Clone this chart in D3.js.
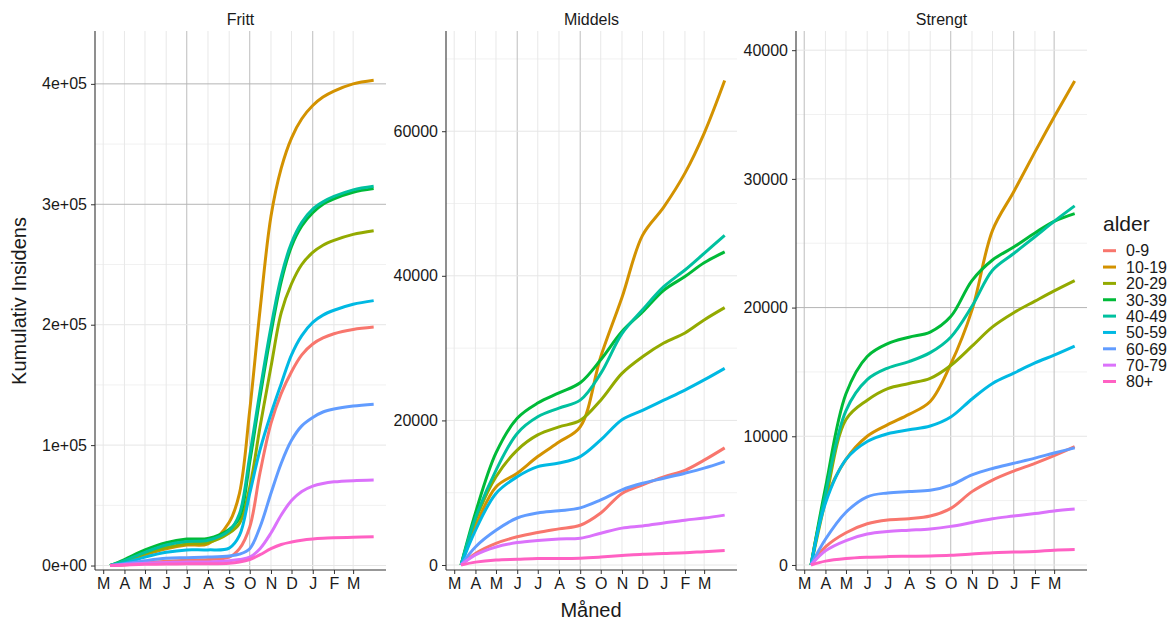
<!DOCTYPE html>
<html>
<head>
<meta charset="utf-8">
<script src="https://cdn.jsdelivr.net/npm/d3@7"></script>
<style>
  body { margin: 0; background: #fff; }
  text { font-family: "Liberation Sans", Arial, sans-serif; fill: #1a1a1a; }
</style>
</head>
<body>
<svg id="chart" width="1174" height="623"></svg>
<script>
(function () {
    'use strict'

    var ageGroups = ['0-9', '10-19', '20-29', '30-39', '40-49', '50-59', '60-69', '70-79', '80+']
    var ageColors = ['#F8766D', '#D39200', '#93AA00', '#00BA38', '#00C19F', '#00B9E3', '#619CFF', '#DB72FB', '#FF61C3']

    // Fritt rises fast in autumn, so it is read at half-month steps there
    var frittDates = ['2020-03-11', '2020-04-01', '2020-05-01', '2020-06-01', '2020-07-01', '2020-08-01', '2020-09-01',
        '2020-09-16', '2020-10-01', '2020-10-16', '2020-11-01', '2020-11-16', '2020-12-01', '2020-12-16',
        '2021-01-01', '2021-01-16', '2021-02-01', '2021-03-01', '2021-03-31']
    var dates = ['2020-03-11', '2020-04-01', '2020-05-01', '2020-06-01', '2020-07-01', '2020-08-01', '2020-09-01',
        '2020-10-01', '2020-11-01', '2020-12-01', '2021-01-01', '2021-02-01', '2021-03-01', '2021-03-31']

    var monthTicks = ['2020-03-01', '2020-04-01', '2020-05-01', '2020-06-01', '2020-07-01', '2020-08-01', '2020-09-01',
        '2020-10-01', '2020-11-01', '2020-12-01', '2021-01-01', '2021-02-01', '2021-03-01']
    var monthLabels = ['M', 'A', 'M', 'J', 'J', 'A', 'S', 'O', 'N', 'D', 'J', 'F', 'M']
    var xDomain = ['2020-02-18', '2021-04-18']

    var panelNames = ['Fritt', 'Middels', 'Strengt']

    // cumulative incidence, one row per age group (same order as ageGroups)
    var frittValues = [
        [0, 500, 2000, 3500, 4500, 5000, 7000, 14000, 32000, 77000, 118000, 143000, 161000, 175000, 184000, 189000, 192500, 196000, 198000],
        [0, 3000, 9000, 14000, 17000, 18000, 36000, 60000, 129000, 212000, 290000, 330000, 355000, 371000, 382000, 389000, 394000, 400000, 403000],
        [0, 3500, 10000, 15000, 18000, 19000, 27000, 35000, 65000, 115000, 165000, 210000, 234000, 250000, 260000, 266000, 270000, 275000, 278000],
        [0, 5000, 13000, 19000, 22000, 22500, 30000, 40000, 86000, 140000, 193000, 236000, 265000, 282000, 293000, 300000, 304500, 310000, 313000],
        [0, 4000, 11000, 17000, 20000, 21000, 29000, 43000, 91000, 145000, 198000, 240000, 268000, 285000, 296000, 302000, 306500, 312000, 315000],
        [0, 2000, 7000, 11000, 13000, 13000, 14500, 25000, 60000, 96000, 126000, 151000, 175000, 191000, 202000, 208000, 212000, 217000, 220000],
        [0, 1500, 4000, 6000, 6500, 7000, 8000, 9500, 14000, 32000, 60000, 85000, 104000, 116000, 123000, 127500, 130000, 132500, 134000],
        [0, 800, 2000, 2500, 3000, 3000, 4000, 5000, 7000, 14000, 27000, 42000, 54000, 61500, 66000, 68200, 69500, 70500, 71000],
        [0, 500, 1000, 1200, 1400, 1500, 2000, 3000, 5000, 9000, 14000, 17500, 19500, 21000, 22000, 22600, 23000, 23500, 24000]
    ]
    var middelsValues = [
        [0, 1600, 3000, 3900, 4500, 5000, 5500, 7200, 9900, 11100, 12200, 13100, 14500, 16200],
        [0, 5300, 10800, 12700, 15000, 17000, 19100, 28800, 37000, 45600, 49500, 54200, 59700, 67000],
        [0, 6200, 12200, 15900, 18000, 19100, 20000, 22800, 26500, 28800, 30700, 32100, 33900, 35600],
        [0, 7200, 15500, 20300, 22400, 23800, 25200, 28400, 32300, 35000, 38000, 39900, 41800, 43300],
        [0, 6500, 13100, 18200, 20500, 21700, 22800, 26500, 32000, 35300, 38500, 40800, 43100, 45600],
        [0, 4800, 9900, 12200, 13600, 14100, 15000, 17300, 20100, 21400, 22800, 24200, 25600, 27200],
        [0, 2500, 4800, 6500, 7200, 7500, 7900, 9000, 10400, 11300, 12000, 12700, 13400, 14300],
        [0, 1400, 2500, 3100, 3400, 3600, 3700, 4400, 5100, 5400, 5800, 6200, 6500, 6900],
        [0, 400, 700, 800, 900, 900, 950, 1100, 1300, 1500, 1600, 1700, 1850, 2000]
    ]
    var strengtValues = [
        [0, 1400, 2500, 3200, 3500, 3600, 3800, 4400, 5700, 6600, 7300, 7900, 8500, 9200],
        [0, 5000, 8200, 10000, 10900, 11700, 12700, 15600, 19800, 26000, 29000, 32100, 34800, 37600],
        [0, 5000, 11300, 12800, 13700, 14100, 14500, 15500, 17000, 18500, 19600, 20500, 21300, 22100],
        [0, 6000, 13300, 16200, 17200, 17700, 18100, 19300, 22100, 23700, 24700, 25800, 26700, 27300],
        [0, 5500, 12000, 14400, 15300, 15800, 16500, 17700, 20100, 22900, 24200, 25500, 26700, 27900],
        [0, 4800, 8200, 9600, 10200, 10500, 10800, 11500, 12900, 14100, 14900, 15700, 16300, 17000],
        [0, 2000, 4100, 5300, 5600, 5700, 5800, 6200, 7000, 7500, 7900, 8300, 8700, 9100],
        [0, 1100, 1900, 2400, 2600, 2700, 2800, 3000, 3300, 3600, 3800, 4000, 4200, 4350],
        [0, 300, 500, 600, 650, 680, 700, 750, 850, 950, 1000, 1050, 1150, 1200]
    ]

    var frittTicks = [0, 100000, 200000, 300000, 400000]
    var frittTickLabels = ['0e+00', '1e+05', '2e+05', '3e+05', '4e+05']
    var middelsTicks = [0, 20000, 40000, 60000]
    var middelsTickLabels = ['0', '20000', '40000', '60000']
    var strengtTicks = [0, 10000, 20000, 30000, 40000]
    var strengtTickLabels = ['0', '10000', '20000', '30000', '40000']

    var parse = d3.timeParse('%Y-%m-%d')
    var top = 31, bottom = 570

    var panels = [
        { name: panelNames[0], dates: frittDates, values: frittValues, ticks: frittTicks, labels: frittTickLabels,
          domain: [-3700, 443900], left: 95, right: 386, darkMonths: [4, 7, 10], darkY: [300000, 400000] },
        { name: panelNames[1], dates: dates, values: middelsValues, ticks: middelsTicks, labels: middelsTickLabels,
          domain: [-690, 73860], left: 446, right: 737, darkMonths: [3, 6], darkY: [] },
        { name: panelNames[2], dates: dates, values: strengtValues, ticks: strengtTicks, labels: strengtTickLabels,
          domain: [-390, 41490], left: 796, right: 1087, darkMonths: [0, 7, 10, 12], darkY: [20000] }
    ]

    var svg = d3.select('#chart')

    panels.forEach(function (p) {
        var x = d3.scaleTime().domain(xDomain.map(parse)).range([p.left, p.right])
        var y = d3.scaleLinear().domain(p.domain).range([bottom, top])
        var g = svg.append('g')

        //minor horizontal grid
        var step = p.ticks[1] - p.ticks[0]
        var minor = p.ticks.map(function (t) { return t + step / 2 })
            .filter(function (v) { return v < p.domain[1] })
        g.selectAll('.minor').data(minor).enter().append('line')
            .attr('x1', p.left).attr('x2', p.right)
            .attr('y1', y).attr('y2', y)
            .style('stroke', '#f1f1f1').style('stroke-width', 1)

        //vertical month grid
        g.selectAll('.vgrid').data(monthTicks).enter().append('line')
            .attr('x1', function (d) { return x(parse(d)) })
            .attr('x2', function (d) { return x(parse(d)) })
            .attr('y1', top).attr('y2', bottom)
            .style('stroke', function (d, i) { return p.darkMonths.indexOf(i) >= 0 ? '#bdbdbd' : '#e8e8e8' })
            .style('stroke-width', 1)

        //major horizontal grid
        g.selectAll('.hgrid').data(p.ticks).enter().append('line')
            .attr('x1', p.left).attr('x2', p.right)
            .attr('y1', y).attr('y2', y)
            .style('stroke', function (d) { return p.darkY.indexOf(d) >= 0 ? '#b5b5b5' : '#e6e6e6' })
            .style('stroke-width', 1)

        //lines
        var line = d3.line()
            .x(function (d, i) { return x(parse(p.dates[i])) })
            .y(function (d) { return y(d) })
            .curve(d3.curveCatmullRom.alpha(0.5))

        g.selectAll('.series').data(p.values).enter().append('path')
            .attr('d', line)
            .style('fill', 'none')
            .style('stroke', function (d, i) { return ageColors[i] })
            .style('stroke-width', 3)

        //axes
        var yAxis = d3.axisLeft(y).tickValues(p.ticks)
            .tickFormat(function (d, i) { return p.labels[i] })
            .tickSize(4).tickPadding(4)
        var ag = g.append('g').attr('transform', 'translate(' + p.left + ',0)').call(yAxis)
        ag.select('.domain').attr('d', 'M0,' + top + 'V' + bottom)

        var xAxis = d3.axisBottom(x).tickValues(monthTicks.map(parse))
            .tickFormat(function (d, i) { return monthLabels[i] })
            .tickSize(4).tickPadding(4)
        var bg = g.append('g').attr('transform', 'translate(0,' + bottom + ')').call(xAxis)
        bg.select('.domain').attr('d', 'M' + p.left + ',0H' + p.right)

        g.selectAll('.domain').style('stroke', '#333').style('stroke-width', 1.1)
        g.selectAll('.tick line').style('stroke', '#333')
        g.selectAll('.tick text').style('font-size', '16px').style('fill', '#1a1a1a')
            .style('font-family', '"Liberation Sans", Arial, sans-serif')

        //strip title
        svg.append('text')
            .attr('x', (p.left + p.right) / 2)
            .attr('y', 25)
            .attr('text-anchor', 'middle')
            .style('font-size', '16px')
            .text(p.name)
    })

    //axis titles
    svg.append('text')
        .attr('transform', 'translate(26,301) rotate(-90)')
        .attr('text-anchor', 'middle')
        .style('font-size', '20px')
        .text('Kumulativ Insidens')

    svg.append('text')
        .attr('x', 591).attr('y', 617)
        .attr('text-anchor', 'middle')
        .style('font-size', '20px')
        .text('Måned')

    //legend
    var legend = svg.append('g').attr('transform', 'translate(1103,0)')
    legend.append('text')
        .attr('x', 0).attr('y', 231)
        .style('font-size', '21px')
        .text('alder')

    var item = legend.selectAll('.item').data(ageGroups).enter().append('g')
        .attr('transform', function (d, i) { return 'translate(0,' + (250.7 + i * 16.35) + ')' })
    item.append('line')
        .attr('x1', 0).attr('x2', 13)
        .style('stroke', function (d, i) { return ageColors[i] })
        .style('stroke-width', 3)
    item.append('text')
        .attr('x', 23).attr('dy', '0.36em')
        .style('font-size', '16px')
        .text(function (d) { return d })
})()
</script>
</body>
</html>
